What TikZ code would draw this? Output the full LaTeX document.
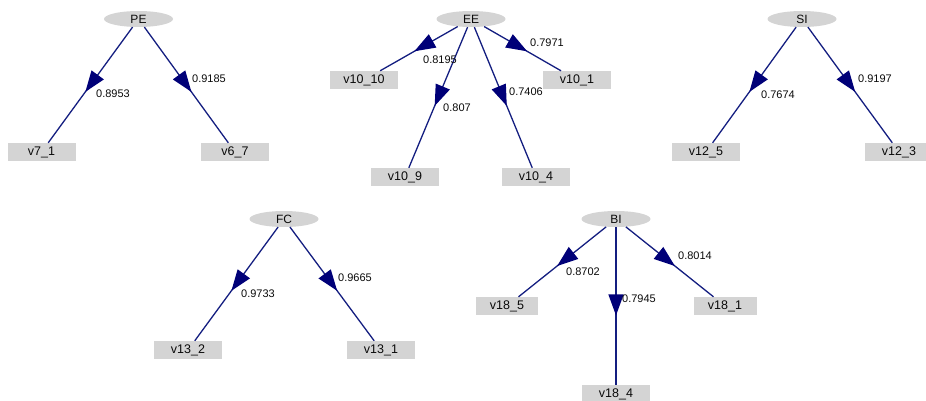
\documentclass[tikz,border=0pt]{standalone}
\usepackage{fontspec}
\setmainfont{Liberation Sans}
\usetikzlibrary{shapes.geometric,arrows.meta,decorations.markings}
\definecolor{edgeblue}{RGB}{20,30,128}
\definecolor{headblue}{RGB}{0,0,120}
\definecolor{boxgray}{RGB}{212,212,212}
\definecolor{txt}{RGB}{10,10,10}
\tikzset{
  latent/.style={ellipse, fill=boxgray, draw=none, minimum width=69pt, minimum height=16pt, inner sep=0pt, font=\fontsize{12}{12}\selectfont, text=txt},
  obsv/.style={rectangle, fill=boxgray, draw=none, minimum width=68pt, minimum height=18pt, inner sep=0pt, font=\fontsize{12.5}{12.5}\selectfont, text=txt},
  lbl/.style={inner sep=0pt, font=\fontsize{11}{11}\selectfont, text=txt},
  load/.style={draw=edgeblue, line width=1.3pt,
    postaction={decorate},
    decoration={markings, mark=at position 0.56 with {\arrow[headblue]{Triangle[length=21pt,width=15pt]}}}}
}
\begin{document}
\begin{tikzpicture}[x=1pt,y=-1pt]
\useasboundingbox (0,0) rectangle (926,401);
\clip (0,0) rectangle (926,401);
% latent nodes
\node[latent] (PE) at (138.5,19) {PE};
\node[latent] (EE) at (471,19) {EE};
\node[latent] (SI) at (802,19) {SI};
\node[latent] (FC) at (284,219) {FC};
\node[latent] (BI) at (616,219) {BI};
% observed nodes
\node[obsv] (v71) at (41.5,152) {v7\_1};
\node[obsv] (v67) at (235,152) {v6\_7};
\node[obsv] (v1010) at (364,80) {v10\_10};
\node[obsv] (v101) at (577,80) {v10\_1};
\node[obsv] (v109) at (405,177) {v10\_9};
\node[obsv] (v104) at (536,177) {v10\_4};
\node[obsv] (v125) at (706,152) {v12\_5};
\node[obsv] (v123) at (899,152) {v12\_3};
\node[obsv] (v132) at (188,350) {v13\_2};
\node[obsv] (v131) at (381,350) {v13\_1};
\node[obsv, minimum width=62pt] (v185) at (507,306) {v18\_5};
\node[obsv, minimum width=63pt] (v181) at (725,306) {v18\_1};
\node[obsv] (v184) at (616,394) {v18\_4};
% edges
\draw[load] (PE) -- (v71);
\draw[load] (PE) -- (v67);
\draw[load] (EE) -- (v1010);
\draw[load] (EE) -- (v101);
\draw[load] (EE) -- (v109);
\draw[load] (EE) -- (v104);
\draw[load] (SI) -- (v125);
\draw[load] (SI) -- (v123);
\draw[load] (FC) -- (v132);
\draw[load] (FC) -- (v131);
\draw[load] (BI) -- (v185);
\draw[load] (BI) -- (v181);
\draw[load] (BI) -- (v184);
% labels
\node[lbl] (l1) at (113,94) {0.8953};
\node[lbl] (l2) at (209,79) {0.9185};
\node[lbl] (l3) at (440,60) {0.8195};
\node[lbl] (l4) at (547,43) {0.7971};
\node[lbl] (l5) at (457,108) {0.807};
\node[lbl] (l6) at (526,92) {0.7406};
\node[lbl] (l7) at (778,95) {0.7674};
\node[lbl] (l8) at (875,79) {0.9197};
\node[lbl] (l9) at (258,294) {0.9733};
\node[lbl] (l10) at (355,278) {0.9665};
\node[lbl] (l11) at (583,272) {0.8702};
\node[lbl] (l12) at (695,256) {0.8014};
\node[lbl] (l13) at (639,299) {0.7945};
\end{tikzpicture}
\end{document}
